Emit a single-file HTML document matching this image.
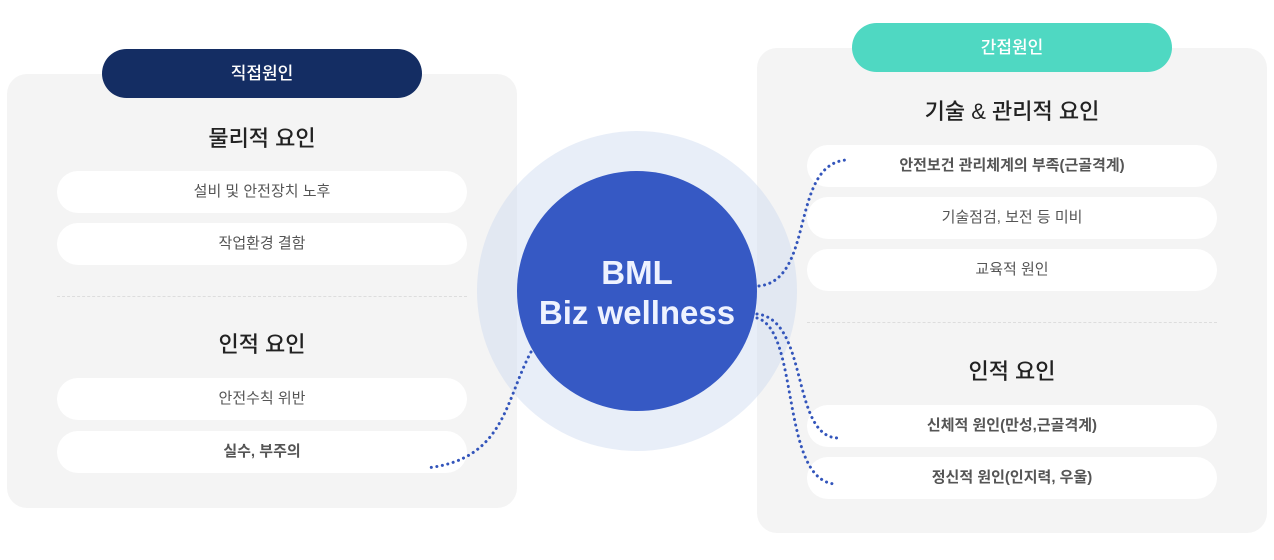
<!DOCTYPE html>
<html><head><meta charset="utf-8"><style>
body{margin:0;width:1274px;height:560px;background:#fff;position:relative;overflow:hidden;font-family:"Liberation Sans","Noto Sans CJK KR",sans-serif}
.panel{position:absolute;background:#f4f4f4;border-radius:20px}
.badge{position:absolute;width:320px;height:49px;border-radius:25px;color:#fff;font-size:17px;text-align:center;line-height:49px;font-weight:500}
.t{position:absolute;width:410px;text-align:center;font-size:22px;font-weight:500;color:#222}
.pill{position:absolute;width:410px;height:42px;border-radius:21px;background:#fff;text-align:center;line-height:42px;font-size:15px;color:#555}
.b{font-weight:bold}
.hr{position:absolute;width:410px;border-top:1px dashed #ddd}
</style></head><body>
<div class="panel" style="left:7px;top:74px;width:510px;height:434px"></div>
<div class="panel" style="left:757px;top:48px;width:510px;height:485px"></div>
<div class="badge" style="left:102px;top:49px;background:#142d63">직접원인</div>
<div class="badge" style="left:852px;top:23px;background:#4fd8c2">간접원인</div>
<div class="t" style="left:57px;top:121px">물리적 요인</div>
<div class="pill" style="left:57px;top:171px">설비 및 안전장치 노후</div>
<div class="pill" style="left:57px;top:223px">작업환경 결함</div>
<div class="hr" style="left:57px;top:296px"></div>
<div class="t" style="left:57px;top:327px">인적 요인</div>
<div class="pill" style="left:57px;top:378px">안전수칙 위반</div>
<div class="pill b" style="left:57px;top:431px">실수, 부주의</div>
<div class="t" style="left:807px;top:94px">기술 &amp; 관리적 요인</div>
<div class="pill b" style="left:807px;top:145px">안전보건 관리체계의 부족(근골격계)</div>
<div class="pill" style="left:807px;top:197px">기술점검, 보전 등 미비</div>
<div class="pill" style="left:807px;top:249px">교육적 원인</div>
<div class="hr" style="left:807px;top:322px"></div>
<div class="t" style="left:807px;top:354px">인적 요인</div>
<div class="pill b" style="left:807px;top:405px">신체적 원인(만성,근골격계)</div>
<div class="pill b" style="left:807px;top:457px">정신적 원인(인지력, 우울)</div>
<svg style="position:absolute;left:0;top:0" width="1274" height="560">
<circle cx="637" cy="291" r="160" fill="rgba(205,218,240,0.45)"/>
<circle cx="637" cy="291" r="120" fill="#3659c4"/>
<text x="637" y="284" text-anchor="middle" font-size="33" font-weight="bold" fill="#eef2ff" font-family="Liberation Sans, Noto Sans CJK KR, sans-serif">BML</text>
<text x="637" y="324" text-anchor="middle" font-size="33" font-weight="bold" fill="#eef2ff" font-family="Liberation Sans, Noto Sans CJK KR, sans-serif">Biz wellness</text>
<g fill="none" stroke="#3355bb" stroke-width="3" stroke-linecap="round" stroke-dasharray="0.1 5.5">
<path d="M531 352 C505 400,505 460,426 468"/>
<path d="M759 286 C815 280,790 165,846 160"/>
<path d="M757 314 C810 320,790 440,840 438"/>
<path d="M757 318 C800 330,780 480,835 484"/>
</g>
</svg>
</body></html>
